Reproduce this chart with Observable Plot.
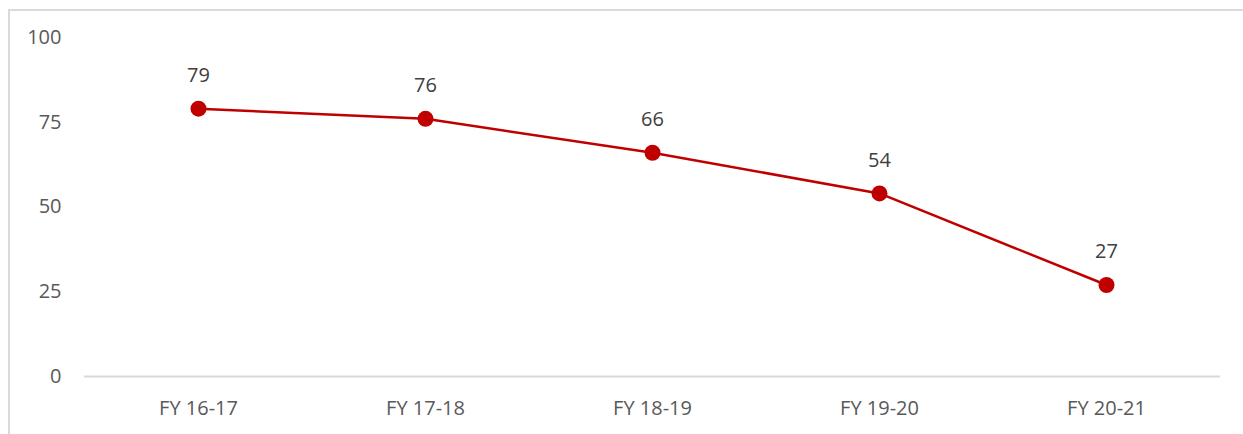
<!DOCTYPE html>
<html>
<head>
<meta charset="utf-8">
<script src="https://cdn.jsdelivr.net/npm/d3@7"></script>
<script src="https://cdn.jsdelivr.net/npm/@observablehq/plot@0.6"></script>
<style>
  html, body { margin: 0; padding: 0; background: #fff; }
  #wrap { position: relative; width: 1243px; height: 434px; overflow: hidden; }
  #frame { position: absolute; left: 8px; top: 9px; width: 1300px; height: 500px; border-left: 2px solid #d9d9d9; border-top: 2px solid #d9d9d9; box-sizing: border-box; pointer-events: none; }
  #chart { position: absolute; left: 0; top: 0; }
</style>
</head>
<body>
<div id="wrap"><div id="chart"></div><div id="frame"></div></div>
<script>
const categories = ["FY 16-17", "FY 17-18", "FY 18-19", "FY 19-20", "FY 20-21"];
const values = [79, 76, 66, 54, 27];
const yTicks = [0, 25, 50, 75, 100];

const data = categories.map((c, i) => ({ year: c, value: values[i] }));
const font = "'Open Sans', sans-serif";

const chart = Plot.plot({
  width: 1243,
  height: 434,
  marginLeft: 84,
  marginRight: 23,
  marginTop: 37,
  marginBottom: 58,
  style: { fontFamily: font, fontSize: "20px", color: "#595959", background: "transparent" },
  x: { type: "point", domain: categories, padding: 0.5, label: null },
  y: { domain: [0, 100], label: null },
  marks: [
    Plot.ruleY([0], { stroke: "#d9d9d9", strokeWidth: 2 }),
    Plot.axisY({ ticks: yTicks, tickSize: 0, tickPadding: 23, label: null, fontSize: 20, fill: "#595959" }),
    Plot.axisX({ tickSize: 0, tickPadding: 24, label: null, fontSize: 20, fill: "#595959" }),
    Plot.line(data, { x: "year", y: "value", stroke: "#c00000", strokeWidth: 2.5 }),
    Plot.dot(data, { x: "year", y: "value", r: 8, fill: "#c00000", stroke: "none" }),
    Plot.text(data, { x: "year", y: "value", text: d => String(d.value), dy: -33, fontSize: 20, fill: "#404040" })
  ]
});
document.getElementById("chart").appendChild(chart);
</script>
</body>
</html>
